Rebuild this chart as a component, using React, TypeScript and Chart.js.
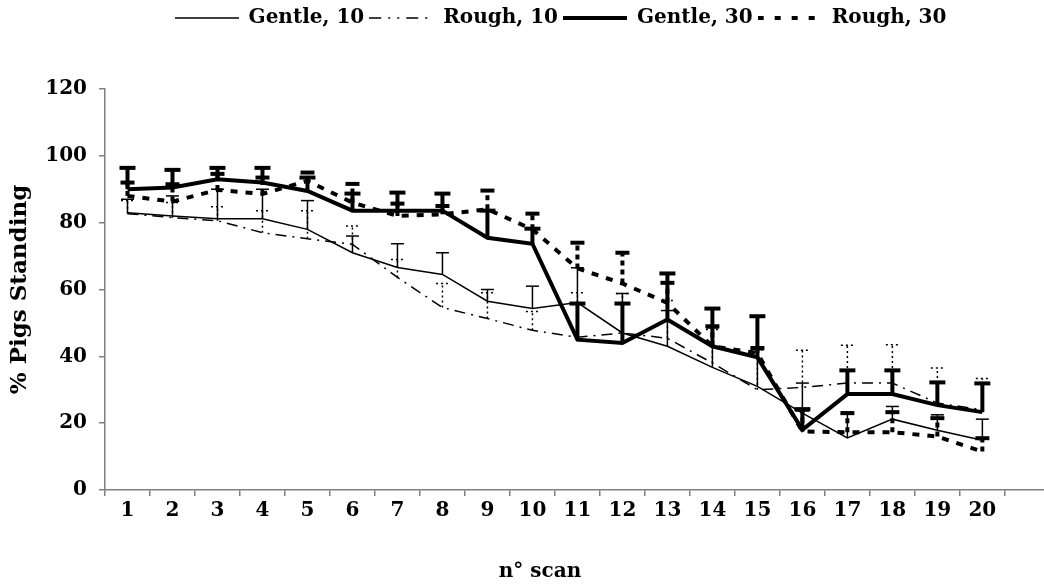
import React, { useEffect, useRef } from 'react';
import { Chart, registerables } from 'chart.js';

Chart.register(...registerables);

// ---- data ----
const scans = [1, 2, 3, 4, 5, 6, 7, 8, 9, 10, 11, 12, 13, 14, 15, 16, 17, 18, 19, 20];
const xTickLabels = ['1', '2', '3', '4', '5', '6', '7', '8', '9', '10', '11', '12', '13', '14', '15', '16', '17', '18', '19', '20'];
const yTickValues = [0, 20, 40, 60, 80, 100, 120];

const seriesNames = ['Gentle, 10', 'Rough, 10', 'Gentle, 30', 'Rough, 30'];

const gentle10 = [83, 82, 81.2, 81.2, 78, 71, 66.6, 64.5, 56.5, 54.3, 56.1, 47, 43, 36.7, 31, 23, 15.6, 21.2, 17.9, 14.9];
const gentle10Sd = [4, 6, 8.8, 8.8, 8.6, 5, 7.1, 6.5, 3.5, 6.7, 10.4, 11.8, 10.7, 11.8, 11, 9, 7.7, 3.8, 4.6, 6.3];

const rough10 = [82.7, 81.5, 80.6, 77, 75.2, 73.5, 63.6, 54.6, 51.3, 47.8, 45.7, 47, 45.4, 38, 30, 30.7, 32, 32, 26, 24];
const rough10Sd = [3.9, 4.5, 4.2, 6.6, 8.4, 5.5, 5.4, 7.2, 7.7, 5.6, 13.3, 11.8, 11.3, 10, 12, 11.1, 11.3, 11.5, 10.5, 9.4];

const gentle30 = [90, 90.5, 93, 92, 89.5, 83.6, 83.6, 83.6, 75.5, 73.7, 45, 44, 51, 43, 39.7, 18, 28.7, 28.7, 25.4, 23.3];
const gentle30Sd = [6.4, 5.3, 3.4, 4.4, 4, 5.1, 5.4, 5.1, 8.1, 4.5, 10.8, 11.8, 13.8, 11.3, 12.3, 6.2, 7.1, 7.1, 6.8, 8.6];

const rough30 = [88, 86.3, 89.8, 88.6, 92.5, 86, 82, 82.5, 84, 78, 66.3, 61.8, 56, 43, 41, 17.5, 17.3, 17.3, 16, 11.5];
const rough30Sd = [4, 5.2, 4.8, 4.9, 2.5, 5.6, 3.7, 2.5, 5.6, 4.7, 7.7, 9.2, 6, 6, 1.5, 6.5, 5.7, 6, 5.5, 4];

const FONT_FAMILY = "'DejaVu Serif', 'Liberation Serif', serif";
const AXIS_GRAY = '#808080';
const SAMPLE_W = 64;

const errorBarPlugin = {
  id: 'errorBars',
  afterDatasetDraw(chart: any, args: any) {
    const ds: any = chart.data.datasets[args.index];
    const meta = args.meta;
    if (!ds.errors || meta.hidden) return;
    const ctx = chart.ctx;
    const yScale = chart.scales.y;
    ctx.save();
    ctx.strokeStyle = '#000';
    ctx.lineWidth = ds.errWidth;
    ctx.lineCap = 'butt';
    meta.data.forEach((pt: any, j: number) => {
      const v = ds.data[j].y;
      const e = ds.errors[j];
      const x = pt.x;
      const y0 = yScale.getPixelForValue(v);
      const y1 = yScale.getPixelForValue(v + e);
      ctx.setLineDash(ds.errDash);
      ctx.beginPath();
      ctx.moveTo(x, y0);
      ctx.lineTo(x, y1);
      ctx.stroke();
      ctx.setLineDash(ds.capDash);
      ctx.beginPath();
      ctx.moveTo(x - ds.capWidth / 2, y1);
      ctx.lineTo(x + ds.capWidth / 2, y1);
      ctx.stroke();
    });
    ctx.restore();
  },
};

const boxPlacePlugin = {
  id: 'boxPlace',
  afterLayout(chart: any) {
    const lg = chart.legend;
    if (lg) {
      const h = lg.bottom - lg.top;
      lg.top = 3;
      lg.bottom = 3 + h;
      lg.left = 77;
    }
    const tb = chart.titleBlock;
    if (tb) {
      tb.left = 36;
      tb.right = 1044;
    }
  },
};

function makeSample(lineWidth: number, dash: number[]) {
  const c = document.createElement('canvas');
  c.width = SAMPLE_W;
  c.height = 8;
  const g = c.getContext('2d');
  if (g) {
    g.strokeStyle = '#000';
    g.lineWidth = lineWidth;
    g.setLineDash(dash);
    g.beginPath();
    g.moveTo(0, 4);
    g.lineTo(SAMPLE_W, 4);
    g.stroke();
  }
  return c;
}

export default function App() {
  const canvasRef = useRef<HTMLCanvasElement | null>(null);

  useEffect(() => {
    if (!canvasRef.current) return;
    const toPts = (arr: number[]) => arr.map((v, i) => ({ x: scans[i], y: v }));
    const font = { family: FONT_FAMILY, size: 20, weight: 'bold' as const };

    const chart = new Chart(canvasRef.current, {
      type: 'line',
      data: {
        datasets: [
          {
            label: seriesNames[0],
            data: toPts(gentle10),
            borderColor: '#000',
            backgroundColor: '#000',
            borderWidth: 1.5,
            pointRadius: 0,
            pointStyle: makeSample(1.5, []),
            tension: 0,
            errors: gentle10Sd,
            errWidth: 1.5,
            errDash: [],
            capDash: [],
            capWidth: 13,
          } as any,
          {
            label: seriesNames[1],
            data: toPts(rough10),
            borderColor: '#000',
            backgroundColor: '#000',
            borderWidth: 1.5,
            borderDash: [11, 6, 2, 6],
            pointRadius: 0,
            pointStyle: makeSample(1.5, [12, 7, 2, 7, 2, 7]),
            tension: 0,
            errors: rough10Sd,
            errWidth: 1.5,
            errDash: [2, 3],
            capDash: [2, 3],
            capWidth: 13,
          } as any,
          {
            label: seriesNames[2],
            data: toPts(gentle30),
            borderColor: '#000',
            backgroundColor: '#000',
            borderWidth: 4,
            pointRadius: 0,
            pointStyle: makeSample(4, []),
            tension: 0,
            errors: gentle30Sd,
            errWidth: 4,
            errDash: [],
            capDash: [],
            capWidth: 16,
          } as any,
          {
            label: seriesNames[3],
            data: toPts(rough30),
            borderColor: '#000',
            backgroundColor: '#000',
            borderWidth: 4,
            borderDash: [7, 8],
            pointRadius: 0,
            pointStyle: makeSample(4, [6, 11]),
            tension: 0,
            errors: rough30Sd,
            errWidth: 4,
            errDash: [5, 4],
            capDash: [],
            capWidth: 14,
          } as any,
        ],
      },
      options: {
        animation: false,
        responsive: false,
        layout: { padding: { top: 54, left: 0, right: 0, bottom: 0 } },
        plugins: {
          legend: {
            position: 'top',
            labels: {
              usePointStyle: true,
              pointStyleWidth: SAMPLE_W,
              padding: 5,
              color: '#000',
              font,
            },
          },
          title: {
            display: true,
            position: 'bottom',
            text: 'n° scan',
            color: '#000',
            font,
            padding: { top: 0, bottom: 4 },
          },
          tooltip: { enabled: false },
        },
        scales: {
          x: {
            type: 'linear',
            min: 0.5,
            max: 21.37,
            afterBuildTicks: (scale: any) => {
              scale.ticks = scans.map((v) => ({ value: v }));
            },
            afterFit: (scale: any) => {
              scale.height = 70;
            },
            border: { display: true, color: AXIS_GRAY, width: 1.5 },
            grid: {
              offset: true,
              drawOnChartArea: false,
              drawTicks: true,
              color: AXIS_GRAY,
              lineWidth: 1.5,
              tickLength: 6,
            },
            ticks: {
              autoSkip: false,
              maxRotation: 0,
              padding: 3,
              color: '#000',
              font,
              callback: (value: any) => {
                const idx = scans.indexOf(Number(value));
                return idx >= 0 ? xTickLabels[idx] : '';
              },
            },
          },
          y: {
            min: yTickValues[0],
            max: yTickValues[yTickValues.length - 1],
            afterBuildTicks: (scale: any) => {
              scale.ticks = yTickValues.map((v) => ({ value: v }));
            },
            afterFit: (scale: any) => {
              scale.width = 105;
            },
            border: { display: true, color: AXIS_GRAY, width: 1.5 },
            grid: {
              drawOnChartArea: false,
              drawTicks: true,
              color: AXIS_GRAY,
              lineWidth: 1.5,
              tickLength: 6,
            },
            ticks: {
              padding: 12,
              color: '#000',
              font,
            },
            title: {
              display: true,
              text: '% Pigs Standing',
              color: '#000',
              font: { family: FONT_FAMILY, size: 23, weight: 'bold' },
              padding: { top: 6, bottom: 0 },
            },
          },
        },
      } as any,
      plugins: [errorBarPlugin, boxPlacePlugin],
    });

    return () => {
      chart.destroy();
    };
  }, []);

  return (
    <div style={{ position: 'absolute', left: 0, top: 0, width: 1044, height: 588, background: '#fff' }}>
      <canvas ref={canvasRef} width={1044} height={588} style={{ display: 'block' }} />
    </div>
  );
}
